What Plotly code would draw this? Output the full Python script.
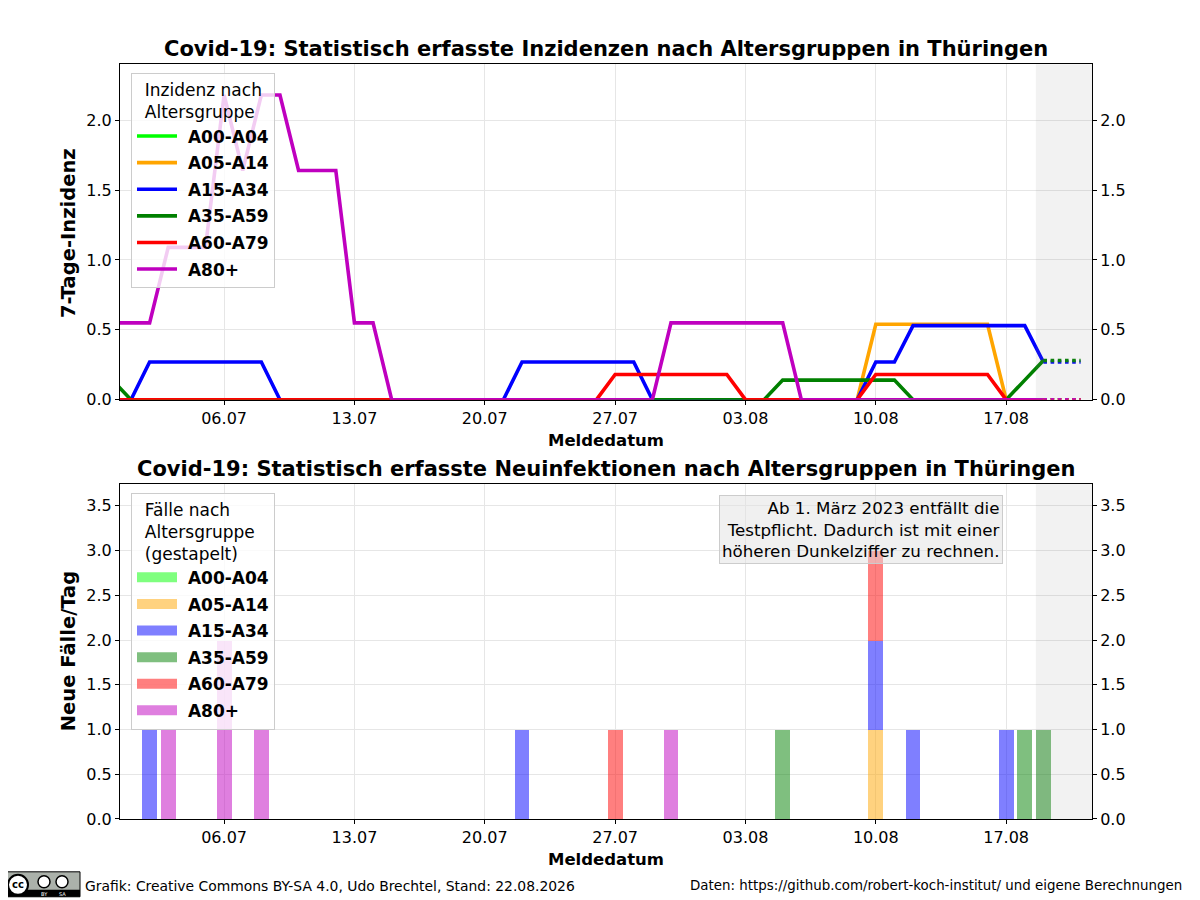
import pandas as pd
import plotly.graph_objects as go

# 7-Tage-Inzidenz je Altersgruppe, 30.06. - 19.08. (gemeldet)
inc_days = pd.date_range("2026-06-30", "2026-08-19", freq="D")
inc_a00 = [0.0] * 51
inc_a05 = [0, 0, 0, 0, 0, 0, 0, 0,
           0, 0, 0, 0, 0, 0, 0,
           0, 0, 0, 0, 0, 0, 0,
           0, 0, 0, 0, 0, 0, 0,
           0, 0, 0, 0, 0, 0, 0,
           0, 0, 0, 0, 0, 0.54, 0.54,
           0.54, 0.54, 0.54, 0.54, 0.54, 0, 0,
           0]
inc_a15 = [0, 0, 0.27, 0.27, 0.27, 0.27, 0.27, 0.27,
           0.27, 0, 0, 0, 0, 0, 0,
           0, 0, 0, 0, 0, 0, 0,
           0.27, 0.27, 0.27, 0.27, 0.27, 0.27, 0.27,
           0, 0, 0, 0, 0, 0, 0,
           0, 0, 0, 0, 0, 0.27, 0.27,
           0.53, 0.53, 0.53, 0.53, 0.53, 0.53, 0.53,
           0.27]
inc_a35 = [0.14, 0, 0, 0, 0, 0, 0, 0,
           0, 0, 0, 0, 0, 0, 0,
           0, 0, 0, 0, 0, 0, 0,
           0, 0, 0, 0, 0, 0, 0,
           0, 0, 0, 0, 0, 0, 0,
           0.14, 0.14, 0.14, 0.14, 0.14, 0.14, 0.14,
           0, 0, 0, 0, 0, 0, 0.14,
           0.28]
inc_a60 = [0, 0, 0, 0, 0, 0, 0, 0,
           0, 0, 0, 0, 0, 0, 0,
           0, 0, 0, 0, 0, 0, 0,
           0, 0, 0, 0, 0, 0.18, 0.18,
           0.18, 0.18, 0.18, 0.18, 0.18, 0, 0,
           0, 0, 0, 0, 0, 0.18, 0.18,
           0.18, 0.18, 0.18, 0.18, 0.18, 0, 0,
           0]
inc_a80 = [0.55, 0.55, 0.55, 1.09, 1.09, 1.09, 2.18, 1.64,
           2.18, 2.18, 1.64, 1.64, 1.64, 0.55, 0.55,
           0, 0, 0, 0, 0, 0, 0,
           0, 0, 0, 0, 0, 0, 0,
           0, 0.55, 0.55, 0.55, 0.55, 0.55, 0.55,
           0.55, 0, 0, 0, 0, 0, 0,
           0, 0, 0, 0, 0, 0, 0,
           0]

# noch unvollstaendige Tage (gepunktet)
tail_days = ["2026-08-19", "2026-08-20", "2026-08-21"]
tail_a00 = [0, 0, 0]
tail_a05 = [0, 0, 0]
tail_a15 = [0.27, 0.27, 0.27]
tail_a35 = [0.28, 0.28, 0.28]
tail_a60 = [0, 0, 0]
tail_a80 = [0, 0, 0]

# neue Faelle pro Tag, 01.07. - 21.08.
case_days = pd.date_range("2026-07-01", "2026-08-21", freq="D")
cases_a00 = [0] * 52
cases_a05 = [0, 0, 0, 0, 0, 0, 0,  0, 0, 0, 0, 0, 0, 0,  0, 0, 0, 0, 0, 0, 0,
             0, 0, 0, 0, 0, 0, 0,  0, 0, 0, 0, 0, 0, 0,  0, 0, 0, 0, 0, 1, 0,
             0, 0, 0, 0, 0, 0, 0,  0, 0, 0]
cases_a15 = [0, 1, 0, 0, 0, 0, 0,  0, 0, 0, 0, 0, 0, 0,  0, 0, 0, 0, 0, 0, 0,
             1, 0, 0, 0, 0, 0, 0,  0, 0, 0, 0, 0, 0, 0,  0, 0, 0, 0, 0, 1, 0,
             1, 0, 0, 0, 0, 1, 0,  0, 0, 0]
cases_a35 = [0, 0, 0, 0, 0, 0, 0,  0, 0, 0, 0, 0, 0, 0,  0, 0, 0, 0, 0, 0, 0,
             0, 0, 0, 0, 0, 0, 0,  0, 0, 0, 0, 0, 0, 0,  1, 0, 0, 0, 0, 0, 0,
             0, 0, 0, 0, 0, 0, 1,  1, 0, 0]
cases_a60 = [0, 0, 0, 0, 0, 0, 0,  0, 0, 0, 0, 0, 0, 0,  0, 0, 0, 0, 0, 0, 0,
             0, 0, 0, 0, 0, 1, 0,  0, 0, 0, 0, 0, 0, 0,  0, 0, 0, 0, 0, 1, 0,
             0, 0, 0, 0, 0, 0, 0,  0, 0, 0]
cases_a80 = [0, 0, 1, 0, 0, 2, 0,  1, 0, 0, 0, 0, 0, 0,  0, 0, 0, 0, 0, 0, 0,
             0, 0, 0, 0, 0, 0, 0,  0, 1, 0, 0, 0, 0, 0,  0, 0, 0, 0, 0, 0, 0,
             0, 0, 0, 0, 0, 0, 0,  0, 0, 0]

groups = ["A00-A04", "A05-A14", "A15-A34", "A35-A59", "A60-A79", "A80+"]
line_colors = ["#00ff00", "#ffa500", "#0000ff", "#008000", "#ff0000", "#bf00bf"]
bar_colors = ["rgba(0,255,0,0.5)", "rgba(255,165,0,0.5)", "rgba(0,0,255,0.5)",
              "rgba(0,128,0,0.5)", "rgba(255,0,0,0.5)", "rgba(191,0,191,0.5)"]
incidences = [inc_a00, inc_a05, inc_a15, inc_a35, inc_a60, inc_a80]
tails = [tail_a00, tail_a05, tail_a15, tail_a35, tail_a60, tail_a80]
cases = [cases_a00, cases_a05, cases_a15, cases_a35, cases_a60, cases_a80]

x_start = "2026-06-30 09:50"
x_end = "2026-08-21 14:40"
shade_start = "2026-08-18 14:20"
tick_days = pd.date_range("2026-07-06", "2026-08-17", freq="7D")

W, H = 1200, 900
FONT = "DejaVu Sans"
NB = "\u00a0"


# Pixelposition (wie im Vorbild) -> Papierkoordinate; gleicht den Seitenrand aus
def px(x):
    return (x - 8) / W


def py(y):
    return 1 - ((y - 6.6) / 0.9907) / H


fig = go.Figure()

for name, color, inc in zip(groups, line_colors, incidences):
    fig.add_trace(go.Scatter(
        x=inc_days, y=inc, name=NB + name, mode="lines", legendgroup=name,
        line=dict(color=color, width=3.6),
        xaxis="x", yaxis="y", legend="legend",
    ))
for name, color, tail in zip(groups, line_colors, tails):
    fig.add_trace(go.Scatter(
        x=tail_days, y=tail, name=name, mode="lines", showlegend=False,
        legendgroup=name, line=dict(color=color, width=3.6, dash="dot"),
        xaxis="x", yaxis="y",
    ))

for name, color, c in zip(groups, bar_colors, cases):
    fig.add_trace(go.Bar(
        x=case_days, y=c, name=name, marker_color=color, showlegend=False,
        marker_line_width=0, width=0.8 * 86400000,
        xaxis="x2", yaxis="y2",
    ))
# Legendeneintraege als breite Balken
for name, color in zip(groups, bar_colors):
    fig.add_trace(go.Scatter(
        x=[None], y=[None], name=NB + name, mode="lines", legendgroup=name + "_f",
        line=dict(color=color, width=13),
        xaxis="x2", yaxis="y2", legend="legend2",
    ))

# unsichtbare Spuren fuer die rechten Achsen
fig.add_trace(go.Scatter(x=[x_start], y=[0], mode="markers", marker_opacity=0,
                         showlegend=False, hoverinfo="skip", xaxis="x", yaxis="y3"))
fig.add_trace(go.Scatter(x=[x_start], y=[0], mode="markers", marker_opacity=0,
                         showlegend=False, hoverinfo="skip", xaxis="x2", yaxis="y4"))

tick_font = dict(family=FONT, size=16, color="black")
xcommon = dict(
    type="date", range=[x_start, x_end], tickvals=tick_days,
    tickformat="%d.%m", ticks="outside", ticklen=4, tickcolor="black",
    showline=True, linecolor="black", linewidth=1, mirror=True,
    showgrid=True, gridcolor="#e6e6e6", tickfont=tick_font, zeroline=False,
    domain=[px(120), px(1092)],
)
ycommon = dict(
    ticks="outside", ticklen=4, tickcolor="black", dtick=0.5,
    tickformat=".1f", showline=True, linecolor="black", linewidth=1,
    tickfont=tick_font, zeroline=False,
)
legend_common = dict(
    xanchor="left", yanchor="top",
    bgcolor="rgba(255,255,255,0.8)", bordercolor="#cccccc", borderwidth=1,
    font=dict(family=FONT, size=17, weight="bold"),
    itemwidth=40, tracegroupgap=1.5, traceorder="grouped",
)

fig.update_layout(
    width=W, height=H, autosize=False,
    margin=dict(l=0, r=0, t=0, b=0),
    paper_bgcolor="white", plot_bgcolor="white",
    font=dict(family=FONT, color="black"),
    barmode="stack", bargap=0,
    xaxis=dict(anchor="y", **xcommon),
    xaxis2=dict(anchor="y2", **xcommon),
    yaxis=dict(anchor="x", domain=[py(399), py(63)], range=[0, 2.4],
               showgrid=True, gridcolor="#e6e6e6", **ycommon),
    yaxis3=dict(anchor="x", overlaying="y", side="right", range=[0, 2.4],
                showgrid=False, **ycommon),
    yaxis2=dict(anchor="x2", domain=[py(819), py(483)], range=[0, 3.75],
                showgrid=True, gridcolor="#e6e6e6", **ycommon),
    yaxis4=dict(anchor="x2", overlaying="y2", side="right", range=[0, 3.75],
                showgrid=False, **ycommon),
    legend=dict(
        x=px(131), y=py(72),
        title=dict(text=NB * 2 + "Inzidenz nach<br>" + NB * 2 + "Altersgruppe",
                   side="top", font=dict(family=FONT, size=17, weight="normal")),
        **legend_common,
    ),
    legend2=dict(
        x=px(131), y=py(492),
        title=dict(text=NB * 2 + "Fälle nach<br>" + NB * 2 + "Altersgruppe<br>"
                   + NB * 2 + "(gestapelt)",
                   side="top", font=dict(family=FONT, size=17, weight="normal")),
        **legend_common,
    ),
)

# graue Markierung der unvollstaendigen Tage
for xr, yr in (("x", "y"), ("x2", "y2")):
    fig.add_shape(type="rect", xref=xr, yref=yr + " domain",
                  x0=shade_start, x1=x_end, y0=0, y1=1,
                  fillcolor="rgba(128,128,128,0.1)", line_width=0, layer="above")

annotations = [
    dict(text="<b>Covid-19: Statistisch erfasste Inzidenzen nach Altersgruppen in Thüringen</b>",
         x=px(606), y=py(48), font=dict(size=21)),
    dict(text="<b>Covid-19: Statistisch erfasste Neuinfektionen nach Altersgruppen in Thüringen</b>",
         x=px(606), y=py(468), font=dict(size=21)),
    dict(text="<b>Meldedatum</b>", x=px(606), y=py(440), font=dict(size=16.5)),
    dict(text="<b>Meldedatum</b>", x=px(606), y=py(860), font=dict(size=16.5)),
    dict(text="<b>7-Tage-Inzidenz</b>", x=px(69), y=py(232), textangle=-90,
         font=dict(size=19.5)),
    dict(text="<b>Neue Fälle/Tag</b>", x=px(68), y=py(651), textangle=-90,
         font=dict(size=19.5)),
    dict(text="Ab 1. März 2023 entfällt die<br>Testpflicht. Dadurch ist mit einer"
              "<br>höheren Dunkelziffer zu rechnen.",
         x=px(1003), y=py(494), xanchor="right", yanchor="top", align="right",
         font=dict(size=16.7), bgcolor="rgba(225,225,225,0.5)",
         bordercolor="#cccccc", borderwidth=1, borderpad=2),
    dict(text="Grafik: Creative Commons BY-SA 4.0, Udo Brechtel, Stand: 22.08.2026",
         x=px(83), y=py(886), xanchor="left", font=dict(size=13.9)),
    dict(text="Daten: https://github.com/robert-koch-institut/ und eigene Berechnungen",
         x=px(1184), y=py(886), xanchor="right", font=dict(size=13.4)),
    dict(text="<b>cc</b>", x=px(18), y=py(885), font=dict(size=10)),
    dict(text="BY", x=px(44), y=py(894), font=dict(size=5, color="white")),
    dict(text="SA", x=px(62), y=py(894), font=dict(size=5, color="white")),
]
for a in annotations:
    a.setdefault("xref", "paper")
    a.setdefault("yref", "paper")
    a.setdefault("showarrow", False)
    a.setdefault("xanchor", "center")
    a.setdefault("yanchor", "middle")
    fig.add_annotation(**a)

# CC BY-SA Logo
logo = [
    dict(type="rect", x0=px(5), x1=px(80), y0=py(897), y1=py(872),
         fillcolor="#abb1aa", line=dict(color="black", width=1)),
    dict(type="rect", x0=px(5), x1=px(80), y0=py(897), y1=py(890),
         fillcolor="black", line_width=0),
    dict(type="circle", x0=px(8), x1=px(28), y0=py(895), y1=py(875),
         fillcolor="white", line=dict(color="black", width=2)),
    dict(type="circle", x0=px(38), x1=px(50), y0=py(888), y1=py(876),
         fillcolor="white", line=dict(color="black", width=1.5)),
    dict(type="circle", x0=px(56), x1=px(68), y0=py(888), y1=py(876),
         fillcolor="white", line=dict(color="black", width=1.5)),
]
for s in logo:
    fig.add_shape(xref="paper", yref="paper", **s)

fig.write_html("out.html")
